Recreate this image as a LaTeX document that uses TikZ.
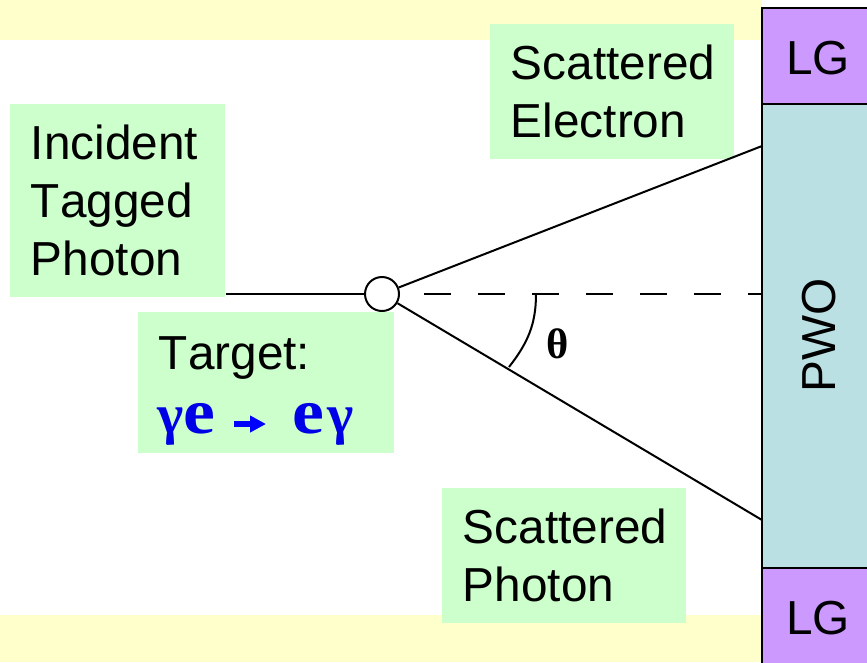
\documentclass[tikz,border=0pt]{standalone}
\usepackage{fontspec}
\setmainfont[Kerning=Off]{Liberation Sans}
\newfontfamily\symfont{Liberation Serif}
\usetikzlibrary{positioning,arrows.meta,calc}
\definecolor{bandyellow}{HTML}{FFFFCC}
\definecolor{labelgreen}{HTML}{CCFFCC}
\definecolor{lgpurple}{HTML}{CC99FF}
\definecolor{pwoblue}{HTML}{BBE0E3}
\definecolor{reactblue}{HTML}{0000E6}
\begin{document}
\begin{tikzpicture}[
  x=0.75pt, y=-0.75pt,
  >=Stealth,
  font=\fontsize{35.8}{43.5}\selectfont,
  band/.style={fill=bandyellow, draw=none},
  lablbox/.style={anchor=north west, fill=labelgreen, inner xsep=15.5pt, inner ysep=0pt, align=left},
  detbox/.style={anchor=north west, draw=black, line width=1.5pt, inner sep=0pt, align=center},
  ray/.style={draw=black, line width=1.5pt},
  reacgamma/.style={font=\symfont\bfseries\fontsize{42}{42}\selectfont, text=reactblue, inner sep=0pt, anchor=base west},
  reacelec/.style={font=\symfont\bfseries\fontsize{48}{48}\selectfont, text=reactblue, inner sep=0pt, anchor=base west, xscale=1.12}
]
  \useasboundingbox (0,0) rectangle (867,662);
  \fill[band] (0,0) rectangle (762,40);
  \fill[band] (0,615) rectangle (762,662);
  % labels
  \node[lablbox, text width=130.25pt, minimum height=144.75pt] (incident) at (10,104) {Incident\\Tagged\\Photon};
  \node[lablbox, text width=152pt, minimum height=101.25pt] (electron) at (490,24) {Scattered\\Electron};
  \node[lablbox, text width=161pt, minimum height=105.75pt] (target) at (138,312) {Target:\\[1.5pt]\mbox{}};
  \node[lablbox, text width=152pt, minimum height=101.25pt] (photon) at (442,488) {Scattered\\Photon};
  % reaction
  \node[reacgamma] (gammain) at (157,433) {γ};
  \node[reacelec] (elecin) at (183,433) {e};
  \node[reacelec] (elecout) at (292,433) {e};
  \node[reacgamma] (gammaout) at (327,433) {γ};
  \coordinate (reactail) at (234,424);
  \coordinate (reachead) at (266,424);
  \draw[-{Stealth[length=12pt,width=12pt,inset=0pt]}, line width=4pt, draw=blue] (reactail) -- (reachead);
  % detector
  \node[detbox, fill=lgpurple, minimum width=80pt, minimum height=72pt] (lgtop) at (761,7) {};
  \node[detbox, fill=pwoblue, minimum width=80pt, minimum height=348pt] (pwo) at (761,103) {};
  \node[detbox, fill=lgpurple, minimum width=80pt, minimum height=72pt] (lgbot) at (761,567) {};
  \node at (818,58) (lgtoptext) {LG};
  \node at (818,618) (lgbottext) {LG};
  \node[rotate=90] at (819,335) (pwotext) {PWO};
  % target and rays
  \node[circle, draw=black, line width=1.5pt, minimum size=25.5pt, inner sep=0pt] (vtx) at (382,294) {};
  \coordinate (eend) at (762,146);
  \coordinate (gend) at (762,520);
  \draw[line width=2.2pt] (incident.east |- vtx) -- (vtx);
  \draw[ray] (vtx) -- (eend);
  \draw[ray] (vtx) -- (gend);
  \draw[ray, dash pattern=on 20.25pt off 20.25pt, dash phase=22.5pt] (vtx) -- (vtx -| pwo.west);
  \coordinate (arcstart) at (536,294);
  \coordinate (arcend) at (509,367);
  \draw[ray] (arcstart) to[out=-90, in=52] (arcend);
  \node[font=\symfont\bfseries\fontsize{32}{32}\selectfont] (thetalabel) at (558,344) {θ};
\end{tikzpicture}
\end{document}
